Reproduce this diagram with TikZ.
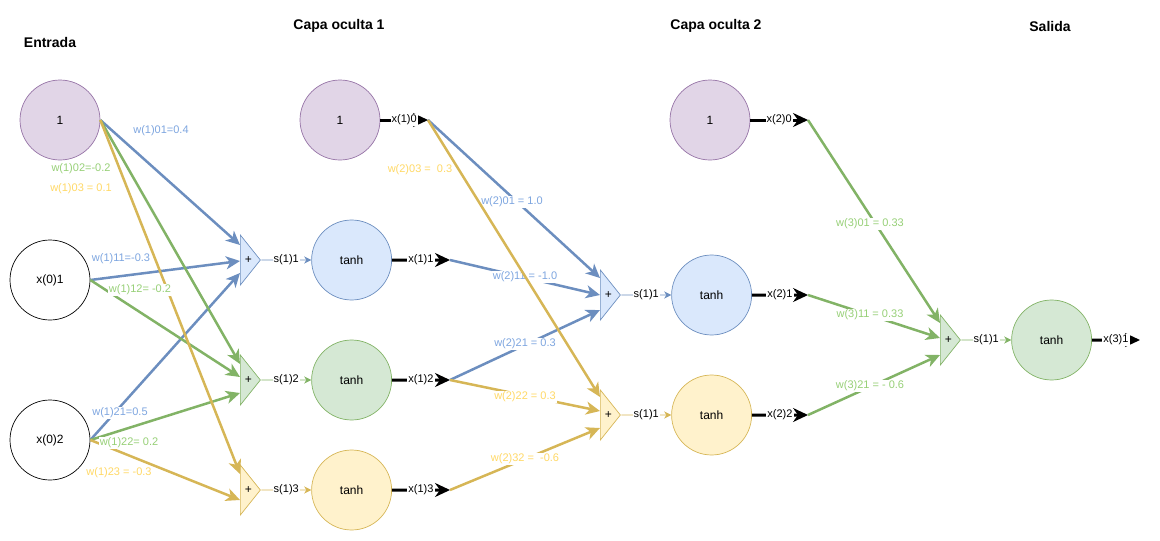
\documentclass[tikz,border=0pt]{standalone}
\usepackage{fontspec}
\setmainfont{Liberation Sans}
\usetikzlibrary{calc,
shapes.geometric,
arrows.meta,
positioning}

\definecolor{purplefill}{HTML}{E1D5E7}
\definecolor{purpledraw}{HTML}{9673A6}
\definecolor{bluefill}{HTML}{DAE8FC}
\definecolor{bluedraw}{HTML}{6C8EBF}
\definecolor{bluetext}{HTML}{7EA6E0}
\definecolor{greenfill}{HTML}{D5E8D4}
\definecolor{greendraw}{HTML}{82B366}
\definecolor{greentext}{HTML}{97D077}
\definecolor{yellowfill}{HTML}{FFF2CC}
\definecolor{yellowdraw}{HTML}{D6B656}
\definecolor{yellowtext}{HTML}{FFD966}

\begin{document}
\begin{tikzpicture} [x=1pt, y=-1pt,
        neuron/.style={circle, draw, line width=0.7pt, minimum size=80pt,
                inner sep=0pt, font=\fontsize{12}{14}\selectfont},
        sumnode/.style={isosceles triangle, isosceles triangle stretches,
                draw, line width=0.7pt, minimum width=50pt, minimum height=20pt,
                inner sep=0pt, anchor=lower side, font=\fontsize{12}{14}\selectfont},
        weight/.style={line width=2.5pt, -{Stealth[length=14pt, width=13pt, inset=4pt]}},
        sumline/.style={line width=0.8pt, -{Stealth[length=7pt, width=7pt, inset=2pt]}},
        outarrow/.style={line width=3pt, black, -{Stealth[length=15pt, width=14pt, inset=5pt]}},
        wlabel/.style={fill=white, inner sep=1pt, font=\fontsize{11}{13}\selectfont},
        layertitle/.style={font=\bfseries\fontsize{14}{17}\selectfont}]

    \useasboundingbox (0,0) rectangle (1160,541);

    % titulos
    \node [layertitle] (t_in) at (50,42) {Entrada};
    \node [layertitle] (t_h1) at (339,26) {Capa oculta 1};
    \node [layertitle] (t_h2) at (716,26) {Capa oculta 2};
    \node [layertitle] (t_out) at (1050,26) {Salida};

    % entrada
    \node [
        neuron,
        fill = purplefill,
        draw = purpledraw
    ] (bias0) at (60,120) {1};
    \node [neuron] (in1) at (50,280) {x(0)1};
    \node [neuron] (in2) at (50,440) {x(0)2};

    % capa oculta 1
    \node [
        neuron,
        fill = purplefill,
        draw = purpledraw
    ] (bias1) at (340,120) {1};
    \node [sumnode, fill = bluefill, draw = bluedraw] (sum11) at (240,260) {+};
    \node [sumnode, fill = greenfill, draw = greendraw] (sum12) at (240,380) {+};
    \node [sumnode, fill = yellowfill, draw = yellowdraw] (sum13) at (240,490) {+};
    \node [
        neuron,
        fill = bluefill,
        draw = bluedraw,
        right = 50pt of sum11
    ] (h11) {tanh};
    \node [
        neuron,
        fill = greenfill,
        draw = greendraw,
        right = 50pt of sum12
    ] (h12) {tanh};
    \node [
        neuron,
        fill = yellowfill,
        draw = yellowdraw,
        right = 50pt of sum13
    ] (h13) {tanh};

    % capa oculta 2
    \node [
        neuron,
        fill = purplefill,
        draw = purpledraw
    ] (bias2) at (710,120) {1};
    \node [sumnode, fill = bluefill, draw = bluedraw] (sum21) at (600,295) {+};
    \node [sumnode, fill = yellowfill, draw = yellowdraw] (sum22) at (600,415) {+};
    \node [
        neuron,
        fill = bluefill,
        draw = bluedraw,
        right = 50pt of sum21
    ] (h21) {tanh};
    \node [
        neuron,
        fill = yellowfill,
        draw = yellowdraw,
        right = 50pt of sum22
    ] (h22) {tanh};

    % salida
    \node [sumnode, fill = greenfill, draw = greendraw] (sum31) at (940,340) {+};
    \node [
        neuron,
        fill = greenfill,
        draw = greendraw,
        right = 50pt of sum31
    ] (out1) {tanh};

    \coordinate (x10) at (428,120);
    \coordinate (x11) at (450,260);
    \coordinate (x12) at (450,380);
    \coordinate (x13) at (450,490);
    \coordinate (x20) at (808,120);
    \coordinate (x21) at (808,295);
    \coordinate (x22) at (808,415);
    \coordinate (x31) at (1140,340);

    % pesos capa 1
    \draw [weight, bluedraw] (bias0.east) -- ([yshift=15pt]sum11.lower side);
    \draw [weight, bluedraw] (in1.east) -- ([yshift=-1pt]sum11.lower side);
    \draw [weight, bluedraw] (in2.east) -- ([yshift=-13pt]sum11.lower side);
    \draw [weight, greendraw] (bias0.east) -- ([yshift=16pt]sum12.lower side);
    \draw [weight, greendraw] (in1.east) -- ([yshift=3pt]sum12.lower side);
    \draw [weight, greendraw] (in2.east) -- ([yshift=-13pt]sum12.lower side);
    \draw [weight, yellowdraw] (bias0.east) -- ([yshift=16pt]sum13.lower side);
    \draw [weight, yellowdraw] (in2.east) -- ([yshift=-10pt]sum13.lower side);

    \node [wlabel, text = bluetext] (l101) at (161,131) {w(1)01=0.4};
    \node [wlabel, text = greentext] (l102) at (81,169) {w(1)02=-0.2};
    \node [wlabel, text = yellowtext] (l103) at (81,189) {w(1)03 = 0.1};
    \node [wlabel, text = bluetext] (l111) at (121,259) {w(1)11=-0.3};
    \node [wlabel, text = greentext] (l112) at (140,290) {w(1)12= -0.2};
    \node [wlabel, text = bluetext] (l121) at (120,413) {w(1)21=0.5};
    \node [wlabel, text = greentext] (l122) at (129,443) {w(1)22= 0.2};
    \node [wlabel, text = yellowtext] (l123) at (119,473) {w(1)23 = -0.3};

    % pesos capa 2
    \draw [weight, bluedraw] (x10) -- ([yshift=17pt]sum21.lower side);
    \draw [weight, bluedraw] (x11) -- (sum21.lower side);
    \draw [weight, bluedraw] (x12) -- ([yshift=-15pt]sum21.lower side);
    \node [wlabel, text = bluetext] (l201) at (512,202) {w(2)01 = 1.0};
    \node [wlabel, text = bluetext] (l211) at (525,277) {w(2)11 = -1.0};
    \node [wlabel, text = bluetext] (l221) at (525,344) {w(2)21 = 0.3};

    \draw [weight, yellowdraw] (x10) -- ([yshift=18pt]sum22.lower side);
    \draw [weight, yellowdraw] (x12) -- ([yshift=4pt]sum22.lower side);
    \draw [weight, yellowdraw] (x13) -- ([yshift=-13pt]sum22.lower side);
    \node [wlabel, text = yellowtext] (l203) at (420,170) {w(2)03 = \ 0.3};
    \node [wlabel, text = yellowtext] (l222) at (525,397) {w(2)22 = 0.3};
    \node [wlabel, text = yellowtext] (l232) at (525,459) {w(2)32 = \ -0.6};

    % pesos capa 3
    \draw [weight, greendraw] (x20) -- ([yshift=17pt]sum31.lower side);
    \draw [weight, greendraw] (x21) -- ([yshift=2pt]sum31.lower side);
    \draw [weight, greendraw] (x22) -- ([yshift=-15pt]sum31.lower side);
    \node [wlabel, text = greentext] (l301) at (870,224) {w(3)01 = 0.33};
    \node [wlabel, text = greentext] (l311) at (870,315) {w(3)11 = 0.33};
    \node [wlabel, text = greentext] (l321) at (870,386) {w(3)21 = - 0.6};

    % sumas
    \draw [sumline, bluedraw] (sum11.apex) -- node [wlabel, text = black] {s(1)1} (h11.west);
    \draw [sumline, greendraw] (sum12.apex) -- node [wlabel, text = black] {s(1)2} (h12.west);
    \draw [sumline, yellowdraw] (sum13.apex) -- node [wlabel, text = black] {s(1)3} (h13.west);
    \draw [sumline, bluedraw] (sum21.apex) -- node [wlabel, text = black] {s(1)1} (h21.west);
    \draw [sumline, yellowdraw] (sum22.apex) -- node [wlabel, text = black] {s(1)1} (h22.west);
    \draw [sumline, greendraw] (sum31.apex) -- node [wlabel, text = black] {s(1)1} (out1.west);

    % salidas
    \draw [outarrow] (bias1.east) -- node [wlabel] {x(1)0} (x10);
    \draw [outarrow] (h11.east) -- node [wlabel] {x(1)1} (x11);
    \draw [outarrow] (h12.east) -- node [wlabel] {x(1)2} (x12);
    \draw [outarrow] (h13.east) -- node [wlabel] {x(1)3} (x13);
    \draw [outarrow] (bias2.east) -- node [wlabel] {x(2)0} (x20);
    \draw [outarrow] (h21.east) -- node [wlabel] {x(2)1} (x21);
    \draw [outarrow] (h22.east) -- node [wlabel] {x(2)2} (x22);
    \draw [outarrow] (out1.east) -- node [wlabel] {x(3)1} (x31);

\end{tikzpicture}
\end{document}
